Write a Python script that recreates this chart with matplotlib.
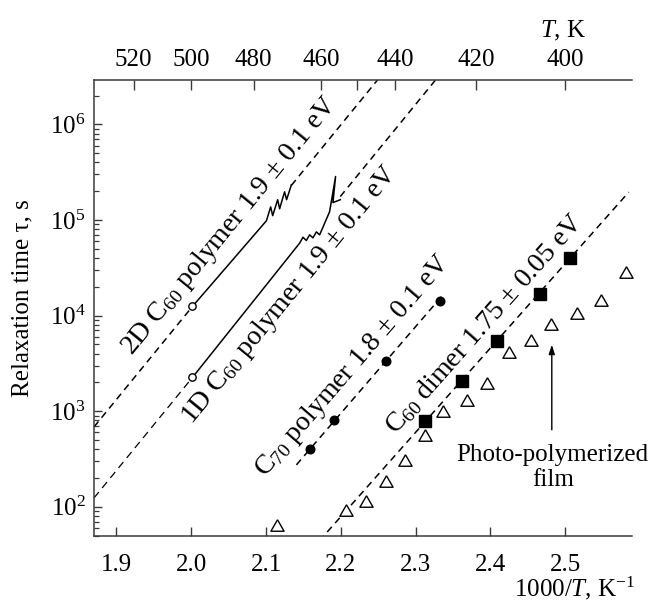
import numpy as np
import matplotlib
matplotlib.use("Agg")
import matplotlib.pyplot as plt
from matplotlib.ticker import LogLocator, NullFormatter

plt.rcParams["font.family"] = ["Liberation Serif", "DejaVu Serif"]
plt.rcParams["mathtext.fontset"] = "custom"
plt.rcParams["mathtext.rm"] = "Liberation Serif"
plt.rcParams["mathtext.it"] = "Liberation Serif:italic"
plt.rcParams["mathtext.bf"] = "Liberation Serif:bold"
plt.rcParams["mathtext.default"] = "regular"
plt.rcParams["lines.scale_dashes"] = False

# ---- data -------------------------------------------------------------
# activation energies (eV) of the Arrhenius fits
ea_2d = 1.9
ea_1d = 1.9
ea_c70 = 1.8
ea_dimer = 1.75

# measured relaxation curves of the C60 polymers (1000/T in K^-1, tau in s)
poly2d_x = [2.0016, 2.1005, 2.1062, 2.1089, 2.1156, 2.1182, 2.1248, 2.1275, 2.1339]
poly2d_tau = [1.245e4, 9.8e4, 1.37e5, 1.11e5, 1.63e5, 1.31e5, 1.97e5, 1.63e5, 2.33e5]

poly1d_x = [2.0016, 2.1450, 2.1494, 2.1539, 2.1583, 2.1627, 2.1673, 2.1717,
            2.1761, 2.1850, 2.1930, 2.1895, 2.1993]
poly1d_tau = [2.25e3, 5.73e4, 6.6e4, 6.1e4, 7.0e4, 6.5e4, 7.5e4, 7.0e4,
              8.4e4, 1.22e5, 2.85e5, 1.52e5, 1.63e5]

# C70 polymer
c70_x = [2.1583, 2.1908, 2.2599, 2.3320]
c70_tau = [402, 800, 3370, 1.43e4]

# C60 dimer
dimer_x = [2.3120, 2.3614, 2.4082, 2.4666, 2.5058]
dimer_tau = [794, 2050, 5450, 1.69e4, 3.99e4]

# photo-polymerized film
film_x = [2.1142, 2.2074, 2.2341, 2.2608, 2.2853, 2.3120, 2.3365, 2.3681,
          2.3949, 2.4247, 2.4546, 2.4813, 2.5155, 2.5481, 2.5815]
film_tau = [65, 93, 116, 188, 306, 566, 1005, 1315,
            1954, 4160, 5585, 8200, 1.06e4, 1.46e4, 2.89e4]

# fit anchors (1000/T, tau) for each Arrhenius line
fit_2d = (2.0016, 1.245e4)
fit_1d = (2.0016, 2.25e3)
fit_c70 = (2.2353, 1982)
fit_dimer = (2.4108, 5695)

x_ticks = [1.9, 2.0, 2.1, 2.2, 2.3, 2.4, 2.5]
top_temps = [520, 500, 480, 460, 450, 440, 420, 400]
top_labels = ["520", "500", "480", "460", "", "440", "420", "400"]

KB_LN10 = 8.617e-5 * 1000 * np.log(10)


def arrhenius(x, ea, anchor):
    x0, tau0 = anchor
    return tau0 * 10 ** (ea / KB_LN10 * (np.asarray(x, dtype=float) - x0))


# ---- figure -----------------------------------------------------------
fig = plt.figure(figsize=(6.58, 6.03), dpi=100)
ax = fig.add_axes([94 / 658, 1 - 535.5 / 603, 538.5 / 658, 456 / 603])
ax.set_yscale("log")
ax.set_xlim(1.87, 2.59)
ax.set_ylim(50, 2.95e6)

spine_c = "#3a3a3a"
for side in ("left", "bottom", "top"):
    ax.spines[side].set_linewidth(1.1)
    ax.spines[side].set_color(spine_c)
ax.spines["right"].set_visible(False)

dash_main = (0, (5.0, 3.6))
dash_thin = (0, (5.5, 3.8))


def dashed(ea, anchor, x0, x1, lw=1.1, ls=dash_main):
    xs = np.linspace(x0, x1, 50)
    ax.plot(xs, arrhenius(xs, ea, anchor), color="black", lw=lw, linestyle=ls,
            clip_on=True)


x_lo = ax.get_xlim()[0]
# 2D polymer
dashed(ea_2d, fit_2d, x_lo, poly2d_x[0])
dashed(ea_2d, fit_2d, poly2d_x[-1], 2.30)
# 1D polymer
dashed(ea_1d, fit_1d, x_lo, poly1d_x[0], lw=0.9, ls=dash_thin)
dashed(ea_1d, fit_1d, poly1d_x[-1], 2.36)
# C70 polymer
dashed(ea_c70, fit_c70, 2.1406, 2.3387)
# C60 dimer
dashed(ea_dimer, fit_dimer, 2.15, 2.585)

ax.plot(poly2d_x, poly2d_tau, color="black", lw=1.1)
ax.plot(poly1d_x, poly1d_tau, color="black", lw=1.1)
ax.plot(poly2d_x[:1], poly2d_tau[:1], "o", ms=5.3, mfc="white", mec="black", mew=1.0)
ax.plot(poly1d_x[:1], poly1d_tau[:1], "o", ms=5.3, mfc="white", mec="black", mew=1.0)

ax.plot(c70_x, c70_tau, "o", ms=6.2, color="black", ls="none")
ax.plot(dimer_x, dimer_tau, "s", ms=9, color="black", ls="none")
tri = [(0, 0.87), (-1, -0.87), (1, -0.87), (0, 0.87)]
ax.plot(film_x, film_tau, marker=tri, ms=9.5, mfc="white", mec="black", mew=1.0,
        ls="none", clip_on=False)


# labels along the fit lines
def line_label(text, ea, anchor, xf, offset_px, side):
    p = ax.transData.transform([(xf, arrhenius(xf, ea, anchor)),
                                (xf + 0.05, arrhenius(xf + 0.05, ea, anchor))])
    ang = np.arctan2(p[1, 1] - p[0, 1], p[1, 0] - p[0, 0])
    d = offset_px * 0.72 * side
    dx, dy = -np.sin(ang) * d, np.cos(ang) * d
    ax.annotate(text, xy=(xf, arrhenius(xf, ea, anchor)), xytext=(dx, dy),
                textcoords="offset points", rotation=np.degrees(ang),
                rotation_mode="anchor", ha="center", va="center", fontsize=20)


line_label(f"2D C$_{{60}}$ polymer {ea_2d:.1f} ± 0.1 eV", ea_2d, fit_2d, 2.0748, 22, 1)
line_label(f"1D C$_{{60}}$ polymer {ea_1d:.1f} ± 0.1 eV", ea_1d, fit_1d, 2.1078, 23, -1)
line_label(f"C$_{{70}}$ polymer {ea_c70:.1f} ± 0.1 eV", ea_c70, fit_c70, 2.2384, 22, 1)
line_label(f"C$_{{60}}$ dimer {ea_dimer:.2f} ± 0.05 eV", ea_dimer, fit_dimer, 2.4125, 21, 1)

ax.annotate("", xy=(2.4821, 4955), xytext=(2.4821, 638),
            arrowprops=dict(arrowstyle="-|>,head_length=0.55,head_width=0.18",
                            lw=1.0, color="black", shrinkA=0, shrinkB=0))
ax.text(2.4834, 10 ** 2.408, "Photo-polymerized\nfilm", ha="center", va="center",
        fontsize=18, multialignment="center")

# axes ticks
ax.set_xticks(x_ticks)
ax.set_xticklabels([f"{v:.1f}" for v in x_ticks])
ax.yaxis.set_major_locator(LogLocator(base=10, numticks=10))
ax.yaxis.set_minor_locator(LogLocator(base=10, subs=np.arange(2, 10), numticks=20))
ax.yaxis.set_minor_formatter(NullFormatter())
ax.tick_params(axis="x", which="major", direction="in", length=6.5, width=1.0,
               color=spine_c, labelsize=18, pad=13, top=False)
ax.tick_params(axis="y", which="major", direction="in", length=5.5, width=1.0,
               color=spine_c, labelsize=18, pad=6, right=False)
ax.tick_params(axis="y", which="minor", direction="in", length=3.5, width=0.9,
               color=spine_c, right=False)

ax2 = ax.twiny()
ax2.set_xlim(ax.get_xlim())
ax2.set_xticks([1000 / t for t in top_temps])
ax2.set_xticklabels(top_labels)
ax2.tick_params(axis="x", direction="in", length=7, width=1.0, color=spine_c,
                labelsize=18, pad=6)
for s in ax2.spines.values():
    s.set_visible(False)

ax.set_ylabel("Relaxation time τ, s", fontsize=18)
ax.yaxis.set_label_coords(-0.112, 0.52)
fig.text(635 / 658, 1 - 588 / 603, r"1000/$\mathit{T}$, K$^{-1}$", ha="right",
         va="center", fontsize=18)
fig.text(563 / 658, 1 - 31 / 603, r"$\mathit{T}$, K", ha="center", va="center",
         fontsize=18)

fig.savefig("out.png", dpi=100)
